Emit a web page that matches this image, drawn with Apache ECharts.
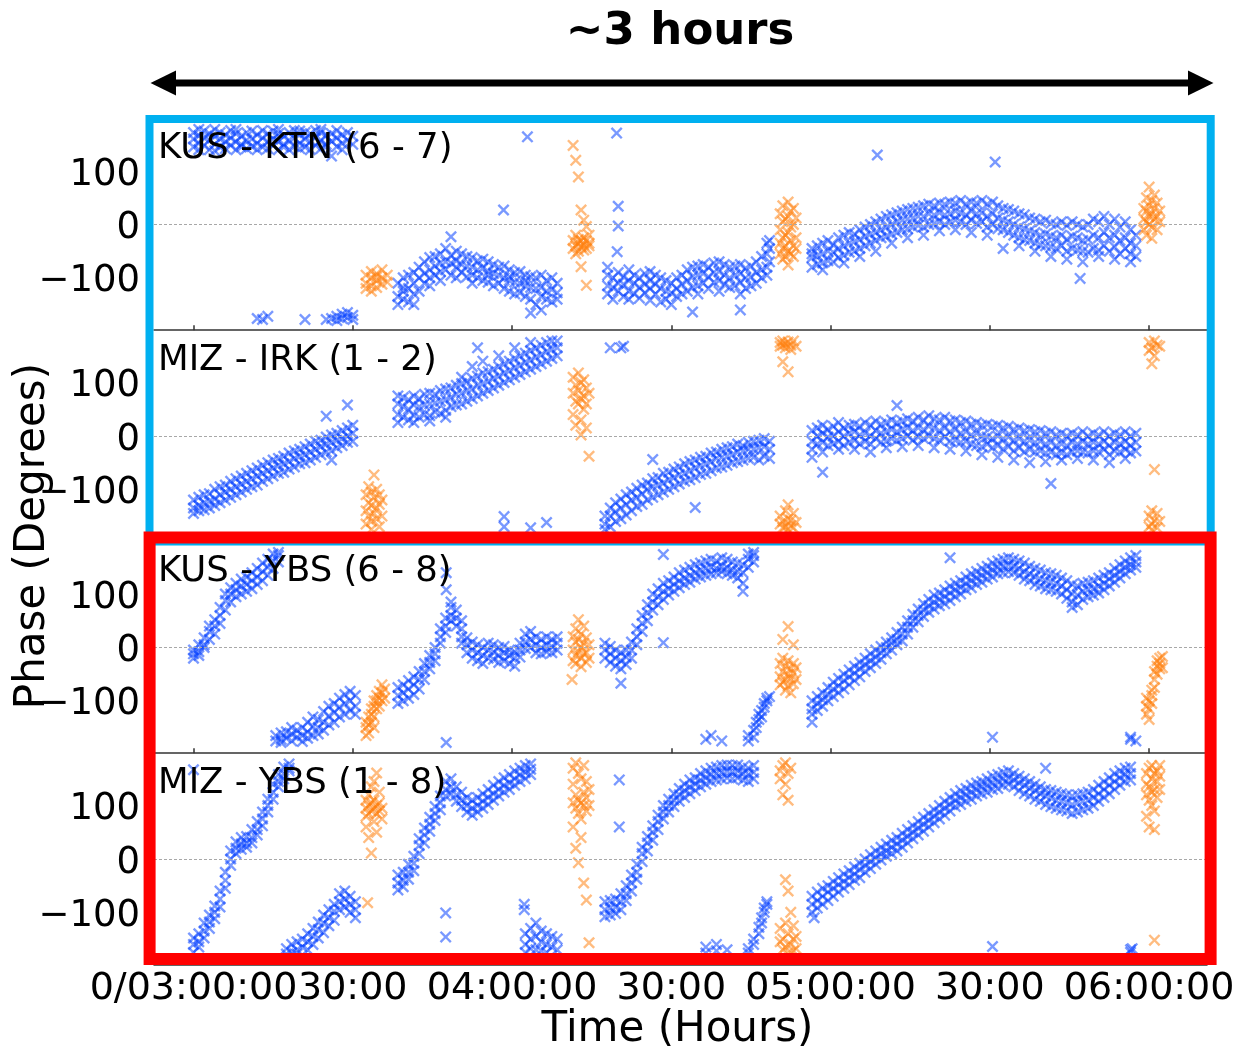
<!DOCTYPE html>
<html><head><meta charset="utf-8">
<script src="https://cdn.jsdelivr.net/npm/echarts@6/dist/echarts.min.js"></script>
<style>html,body{margin:0;padding:0;background:#fff}#c{width:1235px;height:1047px}</style>
</head><body><div id="c"></div>
<script>
// ---- tick labels / names ----
const xTickValues = [0, 30, 60, 90, 120, 150, 180]; // minutes after 03:00
const xTickLabels = ['0/03:00:00', '30:00', '04:00:00', '30:00', '05:00:00', '30:00', '06:00:00'];
const yTickValues = [-100, 0, 100];
const panelNames = ['KUS - KTN (6 - 7)', 'MIZ - IRK (1 - 2)', 'KUS - YBS (6 - 8)', 'MIZ - YBS (1 - 8)'];

// ---- data: rows are [minute after 03:00, phase, phase, ...] ----
const kusKtnBlue = [
[0,145,160,172],[1,152,166,140,178],[2,148,162,175],[3,140,158,170],[4,150,165,178,138],[5,145,160,172],[6,155,168,142],[7,148,162,176],[8,140,155,170,178],[9,150,165,145],[10,158,172,142],[11,146,160,175],[12,152,168,140,-176],[13,145,162,176,-178],[14,155,170,142,-172],[15,148,160,175],[16,140,156,170,178],[17,150,165,145],[18,158,172,140],[19,146,162,176],[20,152,168,142,175],[21,145,160,172,-178],[22,155,170,140],[23,148,163,176],[24,142,158,172,178],[25,150,166,145,-178],[26,156,170,128,-176],[27,146,162,176,-172,-180],[28,152,168,140,-168,-176],[29,158,172,-174,-165],[30,150,165,-178,-170],
[38.5,-110,-135,-150],[39.5,-100,-125,-140,-118],[40.5,-95,-120,-145],[41.5,-90,-110,-130,-150],[42.5,-80,-100,-125],[43.5,-70,-92,-110],[44.5,-62,-85,-100,-115],[45.5,-60,-78,-95],[46.5,-55,-72,-88,-105],[47.5,-45,-70,-85],[48.5,-58,-72,-95,-23],[49.5,-50,-68,-80,-100],[50.5,-55,-75,-90],[51.5,-60,-78,-98],[52.5,-62,-80,-95,-110],[53.5,-68,-85,-100],[54.5,-65,-82,-105],[55.5,-70,-88,-108,-95],[56.5,-75,-92,-115],[57.5,-80,-95,-110],[58.5,-78,-100,-120],[59.5,-85,-105,-125,-98],[60.5,-90,-108,-130],[61.5,-88,-110,-128],[62.5,-95,-115,-135,-105],[63.5,-98,-118,-140,-166],[64.5,-100,-120,-150],[65.5,-95,-118,-135,-160],[66.5,-105,-125,-140],[67.5,-100,-122,-145],[68.5,-110,-128,-140],[58.4,27],[62.9,164],
[78,-95,-115,-130,-80],[79,-100,-118,-140],[80,-90,-110,-125,34,-3],[81,-98,-112,-135],[82,-85,-105,-125,-140],[83,-95,-110,-130],[84,-100,-118,-138],[85,-92,-112,-128],[86,-88,-105,-120,-142],[87,-95,-112,-130],[88,-100,-120,-145],[89,-105,-125,-140],[90,-110,-128,-150],[91,-100,-120,-135],[92,-95,-112,-130],[93,-85,-105,-125],[94,-80,-98,-118,-164],[95,-78,-95,-115,-130],[96,-75,-92,-110],[97,-80,-98,-120],[98,-72,-90,-108],[99,-70,-88,-105,-125],[100,-75,-95,-112],[101,-80,-100,-118],[102,-78,-95,-115],[103,-75,-92,-108,-130,-160],[104,-82,-100,-120],[105,-78,-98,-115],[106,-70,-90,-110],[107,-60,-85,-100],[108,-35,-55,-80,-95],[108.5,-30,-45,-70],[79.7,171],[79.8,-51],
[116.5,-45,-62,-80,-55],[117.5,-40,-58,-75],[118.5,-35,-55,-72,-85],[119.5,-30,-50,-68],[120.5,-38,-52,-70],[121.5,-25,-45,-62],[122.5,-20,-40,-58,-72],[123.5,-15,-35,-52],[124.5,-18,-32,-50],[125.5,-10,-28,-45,-60],[126.5,-5,-22,-40],[127.5,0,-18,-35],[128.5,5,-15,-30,-50],[129.5,10,-10,-25],[130.5,15,-5,-22],[131.5,18,0,-18,-35],[132.5,22,5,-15],[133.5,25,8,-10],[134.5,28,10,-8,-25],[135.5,30,12,-5],[136.5,32,15,-2],[137.5,35,15,-5,-20],[138.5,38,20,0],[139.5,35,18,2],[140.5,40,22,5,-12],[141.5,38,18,0],[142.5,42,20,5],[143.5,40,25,8,-10],[144.5,45,22,5],[145.5,38,18,0],[146.5,42,25,8,-15],[147.5,40,20,2],[148.5,45,22,5],[149.5,38,15,-5,-20],[150.5,42,20,0],[151.5,35,12,-8],[152.5,30,8,-10,-45],[153.5,28,5,-15],[154.5,25,0,-20],[155.5,20,-5,-25,-40],[156.5,18,-8,-28],[157.5,12,-12,-30],[158.5,10,-15,-35,-50],[159.5,5,-20,-38],[160.5,8,-18,-40],[161.5,2,-22,-42,-60],[162.5,0,-25,-45],[163.5,5,-20,-40],[164.5,-2,-28,-50,-65],[165.5,5,-22,-45],[166.5,0,-25,-48],[167.5,-5,-30,-50,-70],[168.5,0,-28,-52],[169.5,10,-20,-45],[170.5,5,-25,-48,-60],[171.5,15,-15,-40],[172.5,0,-25,-50],[173.5,10,-20,-42,-65],[174.5,-5,-30,-55],[175.5,5,-25,-45],[176.5,-10,-35,-55,-70],[177.5,-20,-40,-60],[128.8,130],[151,117],[167,-101]
];
const kusKtnOrange = [
[32.5,-95,-110,-120],[33.5,-88,-100,-115,-125],[34.5,-92,-105,-98,-118],[35.5,-85,-100,-112],[36.5,-95,-108],
[71.5,-30,-45,148],[72,-20,-40,-55,120],[72.5,-35,-28,-50,89],[73,-42,-30,27,-79],[73.5,-38,-25,-48,8],[74,-30,-45,-4,-114],[74.5,-35,-20,-40],
[110.5,20,-10,-35,-55],[111,35,5,-25,-45,-65],[111.5,10,-20,-40,-60],[112,42,15,-15,-50,-76],[112.5,25,-5,-30,-55],[113,30,0,-40,-60],[113.5,12,-25,-45],
[179,30,10,-10],[179.5,50,25,5,-20],[180,70,35,15,0],[180.5,45,20,-5,-26],[181,55,30,10],[181.5,40,15,-10],[182,25,5]
];

const mizIrkBlue = [
[0,-120,-135,-145],[1,-115,-130,-140],[2,-110,-125,-138],[3,-108,-122,-135],[4,-100,-118,-130],[5,-95,-110,-125],[6,-92,-105,-120],[7,-85,-100,-115],[8,-80,-95,-110],[9,-75,-90,-105],[10,-70,-85,-100],[11,-65,-80,-95],[12,-60,-75,-92],[13,-55,-70,-85],[14,-50,-65,-80],[15,-45,-60,-75],[16,-42,-55,-70],[17,-38,-52,-68],[18,-32,-48,-62],[19,-28,-42,-58],[20,-25,-38,-52],[21,-20,-35,-50],[22,-15,-30,-45],[23,-10,-25,-40],[24,-8,-20,-35],[25,-2,-15,-30,37],[26,2,-12,-28,-45],[27,5,-8,-22],[28,10,-5,-18],[29,15,0,-12,58],[30,20,5,-10],
[38.5,40,60,75,25],[39.5,35,55,72],[40.5,30,50,68],[41.5,38,58,75,25],[42.5,35,55,70],[43.5,40,58,78],[44.5,38,60,80,28],[45.5,45,62,78],[46.5,42,65,85],[47.5,48,68,88,35],[48.5,55,72,90],[49.5,58,78,95],[50.5,60,80,98,110],[51.5,65,85,102],[52.5,70,88,108,130],[53.5,75,95,112,165],[54.5,80,98,118,140],[55.5,85,102,120],[56.5,90,108,125],[57.5,95,112,130,150],[58.5,100,118,135,-151,-170],[59.5,105,122,140],[60.5,110,128,145,165],[61.5,115,132,150],[62.5,120,138,155],[63.5,125,142,160,175,-172],[64.5,130,148,165],[65.5,135,152,170],[66.5,140,158,175,-162],[67.5,145,162,178],[68.5,150,165,178],
[78.5,165],[80.5,165],[81,168],
[77.5,-150,-165,-175],[78.5,-135,-150,-170],[79.5,-125,-142,-160],[80.5,-118,-135,-155],[81.5,-110,-128,-148],[82.5,-105,-120,-140],[83.5,-98,-115,-132],[84.5,-92,-108,-128],[85.5,-88,-100,-120],[86.5,-80,-95,-115,-44],[87.5,-78,-92,-110],[88.5,-70,-88,-105],[89.5,-68,-82,-100],[90.5,-62,-78,-95],[91.5,-58,-72,-90],[92.5,-52,-70,-85],[93.5,-48,-65,-82],[94.5,-45,-60,-78,-134],[95.5,-40,-55,-72],[96.5,-38,-52,-70],[97.5,-32,-48,-65],[98.5,-30,-42,-60],[99.5,-25,-40,-58],[100.5,-22,-38,-55],[101.5,-20,-35,-50],[102.5,-15,-30,-48],[103.5,-18,-28,-45],[104.5,-12,-25,-42],[105.5,-10,-25,-40],[106.5,-8,-22,-45],[107.5,-5,-20,-38],[108.5,-10,-25,-42],
[116.5,10,-10,-25,-40],[117.5,15,0,-15],[118.5,20,5,-12,-30,-68],[119.5,12,-2,-18],[120.5,18,0,-15],[121.5,25,8,-10,-25],[122.5,15,0,-18],[123.5,20,5,-12],[124.5,22,8,-8,-25],[125.5,18,2,-15],[126.5,25,5,-10],[127.5,20,0,-15,-30],[128.5,28,10,-5],[129.5,22,5,-12],[130.5,25,8,-10,-22],[131.5,30,12,-5],[132.5,25,8,-8,57],[133.5,28,12,-5,-20],[134.5,32,15,0],[135.5,28,10,-8],[136.5,35,15,-2,-18],[137.5,30,12,-5],[138.5,38,18,0],[139.5,32,15,-5,-22],[140.5,30,10,-8],[141.5,35,15,-2],[142.5,28,8,-10,-25],[143.5,30,12,-8],[144.5,25,5,-12],[145.5,28,8,-10,-28],[146.5,22,2,-15],[147.5,25,5,-18],[148.5,20,0,-20,-35],[149.5,22,-2,-15],[150.5,18,-5,-22],[151.5,20,0,-18,-40],[152.5,15,-5,-25],[153.5,18,-2,-20],[154.5,12,-8,-28,-45],[155.5,15,-5,-22],[156.5,10,-10,-30],[157.5,12,-8,-25,-50],[158.5,8,-12,-30],[159.5,10,-10,-28],[160.5,5,-15,-32,-48],[161.5,8,-12,-30,-89],[162.5,2,-18,-35],[163.5,5,-15,-32,-45],[164.5,0,-18,-35],[165.5,5,-12,-30],[166.5,2,-15,-28,-42],[167.5,8,-10,-30],[168.5,0,-15,-32],[169.5,5,-12,-28,-45],[170.5,2,-15,-30],[171.5,8,-10,-25],[172.5,0,-18,-35,-50],[173.5,5,-12,-28],[174.5,2,-15,-30],[175.5,8,-10,-25,-42],[176.5,0,-18,-32],[177.5,5,-12,-28]
];
const mizIrkOrange = [
[32.5,-110,-140,-165],[33,-95,-125,-150],[33.5,-105,-130,-160,-175],[34,-73,-115,-145],[34.5,-100,-135,-155],[35,-110,-128,-170],[35.5,-120,-150],
[71.5,110,80,40],[72,95,65,20],[72.5,118,85,60],[73,100,70,30,2],[73.5,105,75,50],[74,90,60,15],[74.5,80,-38],
[110.5,175,168,-150,-165],[111,178,170,139,-160,-172],[111.5,165,172,-140,-170],[112,176,120,-129,-155,-175],[112.5,170,162,-158,-168],[113,178,-145,-172],[113.5,168,-162],
[180,175,160,-150,-170],[180.5,165,135,-140,-165,-176],[181,178,150,-63,-158],[181.5,170,-145,-172],[182,168,-160]
];

const kusYbsBlue = [
[0,-20,-5,-12],[1,-8,5,-15],[2,5,18,0],[3,15,30,40],[4,25,40,52],[5,45,60,75],[6,70,88,100],[7,85,100,112],[8,95,108,120],[9,100,115,128],[10,105,118,132],[11,110,125,140],[12,118,132,148],[13,125,142,158],[14,135,150,165],[15,148,162,175],[16,160,172,178],
[15.5,-165,-175],[16.5,-160,-172,-178],[17.5,-158,-170],[18.5,-162,-175,-150],[19.5,-155,-168],[20.5,-150,-165,-176],[21.5,-140,-158,-170],[22.5,-130,-148,-165],[23.5,-135,-150,-162],[24.5,-120,-140,-155],[25.5,-110,-128,-145],[26.5,-105,-122,-140],[27.5,-95,-112,-130],[28.5,-88,-105,-125],[29.5,-82,-100,-118],[30.5,-90,-110,-125],
[38.5,-75,-90,-105],[39.5,-70,-85,-100],[40.5,-62,-78,-95],[41.5,-55,-70,-88],[42.5,-45,-60,-78],[43.5,-30,-45,-60],[44.5,-15,-28,-40],[45.5,0,-12,-25],[46.5,20,35,8],[47.5,40,55,28],[48.5,60,75,50,85],[49.5,55,70,40],[50.5,20,35,8,50],[51.5,5,-10,18],[52.5,-5,-20,10],[53.5,-10,-25,5],[54.5,-15,-30,0],[55.5,-5,-20,8],[56.5,-8,-22,5],[57.5,0,-15,-28],[58.5,-10,-25,2],[59.5,-15,-30,-5],[60.5,-20,-35,-8],[61.5,-5,-18,8],[62.5,10,25,-2],[63.5,15,30,0],[64.5,5,20,-10],[65.5,0,15,-12],[66.5,5,20,-8],[67.5,2,15,-10],[68.5,8,20,-5],[47.6,140,108,-178],
[77.5,-5,-20,8],[78.5,-12,-28,2],[79.5,-20,-35,-5],[80.5,-25,-40,-10,-67],[81.5,-18,-32,-5],[82.5,-5,-20,10],[83.5,20,35,5],[84.5,45,60,30],[85.5,65,80,50],[86.5,85,100,70],[87.5,95,110,80],[88.5,105,120,90,174,9],[89.5,110,125,98],[90.5,118,132,105],[91.5,125,140,112],[92.5,130,145,118],[93.5,135,150,122],[94.5,140,155,128],[95.5,145,158,132],[96.5,148,162,135,-172],[97.5,150,165,138,-165],[98.5,148,162,140],[99.5,152,168,142,-175],[100.5,150,165,138],[101.5,145,160,135],[102.5,142,158,130],[103.5,140,155,120,105],[104.5,150,165,175,-175,-165],[105.5,160,172,178,-168,-155],[106,-150,-140],[106.5,-135,-125],[107,-130,-118],[107.5,-112,-105],[108,-100,-95],[108.5,-92],
[116.5,-100,-115,-125,-140],[117.5,-92,-105,-118],[118.5,-85,-98,-110],[119.5,-75,-88,-100],[120.5,-65,-78,-92],[121.5,-58,-72,-85],[122.5,-50,-62,-78],[123.5,-42,-55,-70],[124.5,-35,-48,-62],[125.5,-28,-40,-55],[126.5,-20,-32,-45],[127.5,-12,-25,-38],[128.5,-5,-18,-30],[129.5,2,-10,-22],[130.5,10,0,-12],[131.5,18,8,-5],[132.5,28,15,5],[133.5,38,25,12],[134.5,50,38,25],[135.5,62,50,38],[136.5,72,60,48],[137.5,82,70,58],[138.5,90,78,66],[139.5,98,85,72],[140.5,102,90,78],[141.5,108,95,82],[142.5,115,102,88,168],[143.5,120,108,95],[144.5,125,112,100],[145.5,132,120,108],[146.5,138,125,112],[147.5,142,130,118],[148.5,148,135,122],[149.5,152,140,128],[150.5,158,145,132,-168],[151.5,162,150,138],[152.5,165,152,140],[153.5,168,155,142],[154.5,165,152,140],[155.5,162,148,135],[156.5,158,142,128],[157.5,152,138,125],[158.5,148,132,118],[159.5,145,128,115],[160.5,140,125,110],[161.5,138,122,108],[162.5,135,120,105],[163.5,130,115,100],[164.5,125,108,92],[165.5,118,100,85,75],[166.5,115,98,80],[167.5,120,105,90],[168.5,122,108,95],[169.5,125,110,98],[170.5,130,115,102],[171.5,135,120,108],[172.5,140,128,115],[173.5,148,135,122],[174.5,155,142,130],[175.5,162,150,138],[176.5,168,155,145,-172,-168],[177.5,172,160,150,-175]
];
const kusYbsOrange = [
[32.5,-150,-165,-140],[33,-145,-130,-160],[33.5,-125,-140,-115],[34,-110,-130,-100,-150],[34.5,-100,-115,-90],[35,-95,-110,-82],[35.5,-85,-100,-70],[36,-78,-95],
[71.3,-60],[71.5,20,-5,-25],[72,35,10,-15,-30],[72.5,52,15,-8],[73,25,0,-20,-36],[73.5,40,8,-12],[74,18,-10,-28],[74.5,5,-20],
[110.5,-30,-55,-70],[111,-20,-45,-65,15],[111.5,-35,-60,-80],[112,-25,-50,-72,39],[112.5,-40,-58,-85],[113,-30,-48,-68,5],[113.5,-38,-60],
[179.5,-110,-125,-95],[180,-100,-115,-135],[180.5,-90,-105,-80],[181,-60,-45,-75],[181.5,-35,-50,-25],[182,-30,-40,-20],[182.5,-38,-17]
];

const mizYbsBlue = [
[0,-160,-175,-148,167],[1,-140,-155,-165],[2,-120,-135,-148],[3,-105,-118,-130],[4,-88,-100,-112],[5,-60,-75,-90],[6,-25,-40,-55],[7,0,15,-12],[8,20,32,10],[9,28,40,18],[10,30,42,22],[11,40,55,30],[12,55,70,45],[13,75,88,62],[14,100,112,88],[15,125,140,112],[16,145,158,135],[17,160,172,150],[18,170,178,165],
[17.5,-168,-178],[18.5,-160,-175],[19.5,-155,-170,-178],[20.5,-150,-165],[21.5,-140,-155,-170],[22.5,-130,-145,-160],[23.5,-118,-132,-148],[24.5,-105,-120,-138],[25.5,-95,-110,-125],[26.5,-85,-98,-115],[27.5,-65,-80,-95],[28.5,-60,-75,-90],[29.5,-70,-85,-100],[30.5,-80,-95,-110],
[38.5,-30,-45,-58],[39.5,-25,-40,-52],[40.5,-10,-25,-38],[41.5,5,-8,-22],[42.5,25,10,38],[43.5,45,58,30],[44.5,65,78,52],[45.5,85,98,72],[46.5,105,118,92],[47.5,130,145,118,-101,-146],[48.5,135,150,122],[49.5,120,135,108],[50.5,110,125,98],[51.5,100,115,88],[52.5,95,110,82],[53.5,100,115,88],[54.5,108,122,95],[55.5,115,130,102],[56.5,122,138,110],[57.5,130,145,118],[58.5,138,152,125],[59.5,142,158,130],[60.5,150,165,138],[61.5,158,170,145],[62.5,162,175,150],[63.5,168,178,158],
[62.3,-85,-95],[62.5,-140,-160,-175],[63.5,-130,-150,-168],[64.5,-120,-145,-170],[65.5,-135,-155,-172],[66.5,-140,-160,-175],[67.5,-145,-165],[68.5,-150,-170],
[80.2,148,60],
[77.5,-80,-95,-108],[78.5,-78,-92,-105],[79.5,-75,-90,-102],[80.5,-65,-80,-95],[81.5,-50,-65,-78],[82.5,-30,-45,-60],[83.5,-10,-25,-38],[84.5,10,-5,22],[85.5,30,15,42],[86.5,50,35,62],[87.5,70,55,82],[88.5,88,75,100],[89.5,100,88,112],[90.5,110,98,122],[91.5,120,108,132],[92.5,128,115,140],[93.5,135,122,148],[94.5,140,128,152],[95.5,148,135,160],[96.5,152,140,165,-165,-176],[97.5,158,145,170],[98.5,160,148,172,-160,-172],[99.5,162,150,175],[100.5,165,152,176,-170],[101.5,162,150,175],[102.5,165,152,176],[103.5,160,148,172],[104.5,158,145,170,-176,-168],[105.5,162,150,175,-160,-150],[106.5,-140,-128],[107,-120,-110],[107.5,-100,-92],[108,-85,-80],
[116.5,-70,-85,-100],[116.9,-110],[117.5,-62,-78,-92],[118.5,-55,-70,-85],[119.5,-50,-62,-78],[120.5,-42,-55,-70],[121.5,-35,-48,-62],[122.5,-28,-42,-55],[123.5,-22,-35,-48],[124.5,-15,-28,-40],[125.5,-8,-20,-35],[126.5,0,-12,-25],[127.5,8,-5,-18],[128.5,15,2,-10],[129.5,22,10,-2],[130.5,28,15,5],[131.5,35,22,10],[132.5,40,28,15],[133.5,48,35,22],[134.5,55,42,30],[135.5,62,50,38],[136.5,70,58,45],[137.5,78,65,52],[138.5,85,72,60],[139.5,92,80,68],[140.5,100,88,75],[141.5,108,95,82],[142.5,115,102,90],[143.5,122,110,98],[144.5,128,115,102],[145.5,132,120,108],[146.5,138,125,112],[147.5,142,130,118],[148.5,145,135,122],[149.5,150,138,125],[150.5,155,142,130,-164],[151.5,158,145,132],[152.5,162,150,138],[153.5,165,152,140],[154.5,160,148,135],[155.5,155,142,128],[156.5,150,138,122],[157.5,145,132,118],[158.5,140,128,112],[159.5,135,122,108],[160.5,130,118,102,170],[161.5,128,115,98],[162.5,125,110,95],[163.5,122,108,92],[164.5,120,105,90],[165.5,118,102,85],[166.5,120,105,88],[167.5,122,108,92],[168.5,125,110,95],[169.5,130,115,100],[170.5,138,122,108],[171.5,145,130,115],[172.5,152,138,122],[173.5,160,145,130],[174.5,165,152,138],[175.5,170,158,145],[176.5,172,160,148,-175,-170],[176.8,-168]
];
const mizYbsOrange = [
[32.5,95,110,80,60],[32.8,-82],[33,100,120,85,40],[33.5,90,105,135,11],[34,110,95,145,70],[34.5,100,85,161,50],[35,105,90,125],[35.5,95,75],
[71.5,170,140,105,60],[72,180,120,95,20],[72.5,160,110,85,-7],[73,150,105,75,40],[73.5,175,125,100,-45],[74,145,115,90,-77],[74.5,130,100,-157],
[110.5,150,165,-130,-155],[111,175,120,-150,-170],[111.5,180,140,-39,-120,-165],[112,160,110,-60,-140,-176],[112.5,170,-100,-160],[113,-125,-150,-172],[113.5,-145,-168],
[179.5,120,140,160,80],[180,110,135,170,60],[180.5,150,125,100,175],[181,130,160,90,55,-152],[181.5,145,115,165],[182,155,130,175]
];

const blueSets = [kusKtnBlue, mizIrkBlue, kusYbsBlue, mizYbsBlue];
const orangeSets = [kusKtnOrange, mizIrkOrange, kusYbsOrange, mizYbsOrange];

function expand(rows) {
  const out = [];
  rows.forEach(r => { for (let i = 1; i < r.length; i++) out.push([r[0], r[i]]); });
  return out;
}

// ---- layout / style ----
const GRID_LEFT = 154, GRID_W = 1053, GRID_TOP0 = 118.7, GRID_H = 211.5;
const X_MIN = -7.44, X_MAX = 190.9, Y_MIN = -198, Y_MAX = 198;
const CROSS = 'path://M0,1.4L1.4,0L5,3.6L8.6,0L10,1.4L6.4,5L10,8.6L8.6,10L5,6.4L1.4,10L0,8.6L3.6,5Z';
const FONT = '"DejaVu Sans", sans-serif';

const grids = [], xAxes = [], yAxes = [], series = [];
for (let i = 0; i < 4; i++) {
  grids.push({left: GRID_LEFT, top: GRID_TOP0 + i * GRID_H, width: GRID_W, height: GRID_H,
    containLabel: false, outerBoundsMode: 'none', show: false});
  const last = i === 3;
  xAxes.push({type: 'value', gridIndex: i, min: X_MIN, max: X_MAX,
    axisLine: {show: true, onZero: false, lineStyle: {color: '#333', width: 1.5}},
    axisTick: {show: true, inside: true, length: 5, customValues: xTickValues, lineStyle: {color: '#333', width: 1.5}},
    splitLine: {show: false},
    axisLabel: {show: last, customValues: xTickValues, margin: 5, fontSize: 38, fontFamily: FONT, color: '#000',
      formatter: v => { const k = xTickValues.indexOf(Math.round(v)); return k >= 0 ? xTickLabels[k] : ''; }}
  });
  yAxes.push({type: 'value', gridIndex: i, min: Y_MIN, max: Y_MAX,
    axisLine: {show: false}, axisTick: {show: false}, splitLine: {show: false},
    axisLabel: {show: true, customValues: yTickValues, margin: 14, fontSize: 37, fontFamily: FONT, color: '#000',
      verticalAlign: 'top', lineHeight: 8,
      formatter: v => v < 0 ? '\u2212' + Math.abs(v) : String(v)}
  });
  series.push({type: 'scatter', xAxisIndex: i, yAxisIndex: i, data: expand(blueSets[i]),
    symbol: CROSS, symbolSize: 12, itemStyle: {color: 'rgba(0,60,255,0.66)'}, z: 2, silent: true,
    markLine: {silent: true, symbol: 'none', label: {show: false}, animation: false,
      lineStyle: {color: '#a8a8a8', type: [3, 2], width: 1}, data: [{yAxis: 0}]}});
  series.push({type: 'scatter', xAxisIndex: i, yAxisIndex: i, data: expand(orangeSets[i]),
    symbol: CROSS, symbolSize: 12, itemStyle: {color: 'rgba(255,127,14,0.66)'}, z: 3, silent: true});
}

const graphic = [
  {type: 'text', x: 680, y: 32, z: 100, style: {text: '~3 hours', font: 'bold 45px ' + FONT, fill: '#000', align: 'center', verticalAlign: 'middle', textAlign: 'center', textVerticalAlign: 'middle'}},
  {type: 'line', z: 100, shape: {x1: 172, y1: 83, x2: 1192, y2: 83}, style: {stroke: '#000', lineWidth: 7}},
  {type: 'polygon', z: 100, shape: {points: [[150.5, 83], [176, 70.5], [176, 95.5]]}, style: {fill: '#000'}},
  {type: 'polygon', z: 100, shape: {points: [[1213.5, 83], [1188, 70.5], [1188, 95.5]]}, style: {fill: '#000'}},
  {type: 'text', x: 33, y: 536, rotation: Math.PI / 2, z: 100, style: {text: 'Phase (Degrees)', font: '42px ' + FONT, fill: '#000', align: 'center', verticalAlign: 'middle', textAlign: 'center', textVerticalAlign: 'middle'}},
  {type: 'text', x: 677.5, y: 1030, z: 100, style: {text: 'Time (Hours)', font: '42px ' + FONT, fill: '#000', align: 'center', verticalAlign: 'middle', textAlign: 'center', textVerticalAlign: 'middle'}},
  {type: 'rect', z: 110, shape: {x: 149.5, y: 119, width: 1061.2, height: 422.5}, style: {fill: 'none', stroke: '#00b0f0', lineWidth: 8}},
  {type: 'rect', z: 111, shape: {x: 149.6, y: 537.4, width: 1061, height: 421.7}, style: {fill: 'none', stroke: '#ff0000', lineWidth: 12}}
];
panelNames.forEach((t, i) => {
  graphic.push({type: 'text', x: 158, y: 149 + i * GRID_H, z: 90,
    style: {text: t, font: '35.5px ' + FONT, fill: '#000', align: 'left', verticalAlign: 'middle', textAlign: 'left', textVerticalAlign: 'middle'}});
});

const chart = echarts.init(document.getElementById('c'), null, {renderer: 'canvas'});
chart.setOption({
  animation: false,
  backgroundColor: '#fff',
  grid: grids, xAxis: xAxes, yAxis: yAxes, series: series, graphic: graphic
});
</script></body></html>
